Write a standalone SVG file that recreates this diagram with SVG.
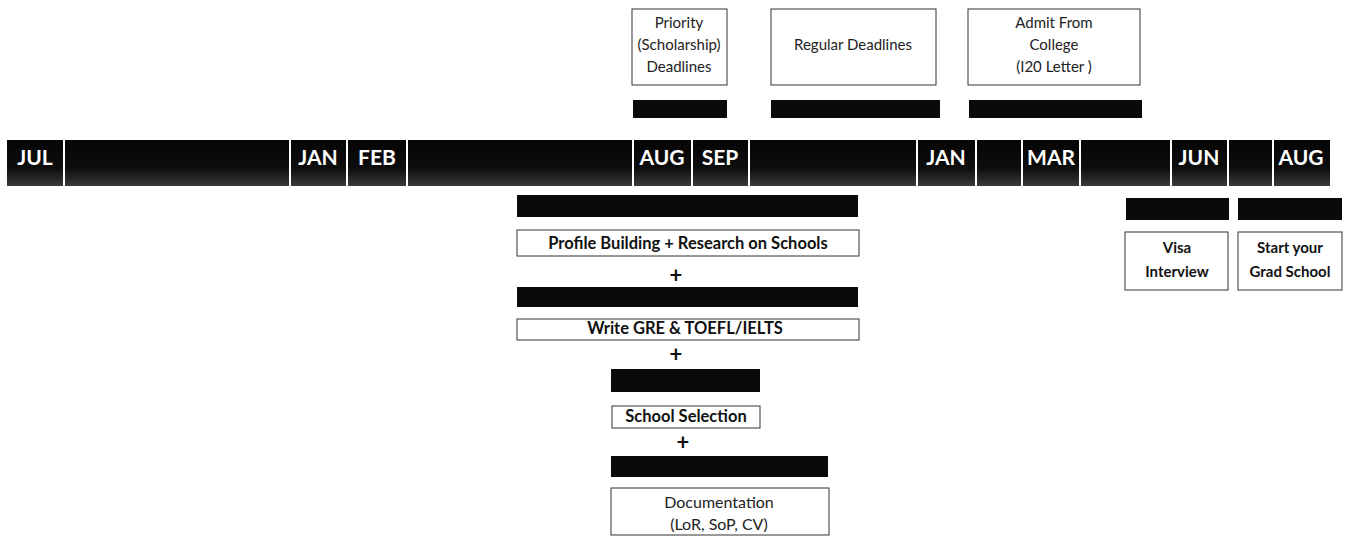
<svg xmlns="http://www.w3.org/2000/svg" width="1348" height="538" viewBox="0 0 1348 538">
<style>
.bar{fill:#0a0a0a}
.seg{fill:url(#tl)}
.box{fill:#fff;stroke:#333;stroke-width:1}
.mon{font-family:Lato,"Noto Sans",sans-serif;font-weight:bold;font-size:21px;fill:#fff;text-anchor:middle}
.t{font-family:Lato,"Noto Sans",sans-serif;font-size:15px;fill:#222;text-anchor:middle}
.tb{font-family:Lato,"Noto Sans",sans-serif;font-size:16.5px;font-weight:bold;fill:#111;text-anchor:middle}
.ts{font-family:Lato,"Noto Sans",sans-serif;font-size:15px;font-weight:bold;fill:#111;text-anchor:middle}
.plus{font-family:Lato,"Noto Sans",sans-serif;font-size:22px;font-weight:bold;fill:#111;text-anchor:middle}
</style>
<defs>
<linearGradient id="tl" x1="0" y1="0" x2="0" y2="1">
<stop offset="0" stop-color="#050505"/>
<stop offset="0.6" stop-color="#0d0d0d"/>
<stop offset="1" stop-color="#3a3a3a"/>
</linearGradient>
</defs>
<g id="timeline">
<rect class="seg" x="7" y="140" width="56" height="46"/>
<rect class="seg" x="65" y="140" width="224" height="46"/>
<rect class="seg" x="291" y="140" width="55" height="46"/>
<rect class="seg" x="348" y="140" width="58" height="46"/>
<rect class="seg" x="408" y="140" width="224" height="46"/>
<rect class="seg" x="634" y="140" width="57" height="46"/>
<rect class="seg" x="693" y="140" width="55" height="46"/>
<rect class="seg" x="750" y="140" width="166" height="46"/>
<rect class="seg" x="918" y="140" width="57" height="46"/>
<rect class="seg" x="977" y="140" width="44" height="46"/>
<rect class="seg" x="1023" y="140" width="56" height="46"/>
<rect class="seg" x="1081" y="140" width="89" height="46"/>
<rect class="seg" x="1172" y="140" width="55" height="46"/>
<rect class="seg" x="1229" y="140" width="43" height="46"/>
<rect class="seg" x="1274" y="140" width="56" height="46"/>
<text class="mon" x="35" y="165">JUL</text>
<text class="mon" x="318" y="165">JAN</text>
<text class="mon" x="377" y="165">FEB</text>
<text class="mon" x="662" y="165">AUG</text>
<text class="mon" x="720" y="165">SEP</text>
<text class="mon" x="946" y="165">JAN</text>
<text class="mon" x="1051" y="165">MAR</text>
<text class="mon" x="1199" y="165">JUN</text>
<text class="mon" x="1301" y="165">AUG</text>
</g>
<g id="priority">
<rect class="box" x="632" y="9" width="95" height="76"/>
<text class="t" x="679" y="28">Priority</text>
<text class="t" x="679" y="50">(Scholarship)</text>
<text class="t" x="679" y="72">Deadlines</text>
<rect class="bar" x="633" y="100" width="94" height="18"/>
</g>
<g id="regular">
<rect class="box" x="771" y="9" width="165" height="76"/>
<text class="t" x="853" y="50">Regular Deadlines</text>
<rect class="bar" x="771" y="100" width="169" height="18"/>
</g>
<g id="admit">
<rect class="box" x="968" y="9" width="172" height="76"/>
<text class="t" x="1054" y="28">Admit From</text>
<text class="t" x="1054" y="50">College</text>
<text class="t" x="1054" y="72">(I20 Letter )</text>
<rect class="bar" x="969" y="100" width="173" height="18"/>
</g>
<g id="profile">
<rect class="bar" x="517" y="195" width="341" height="22"/>
<rect class="box" x="517" y="230" width="342" height="26"/>
<text class="tb" x="688" y="249">Profile Building + Research on Schools</text>
</g>
<g id="gre">
<rect class="bar" x="517" y="287" width="341" height="20"/>
<rect class="box" x="517" y="319" width="342" height="21"/>
<text class="tb" x="685" y="334">Write GRE &amp; TOEFL/IELTS</text>
</g>
<g id="selection">
<rect class="bar" x="611" y="369" width="149" height="23"/>
<rect class="box" x="612" y="406" width="148" height="22"/>
<text class="tb" x="686" y="422">School Selection</text>
</g>
<g id="documentation">
<rect class="bar" x="611" y="456" width="217" height="21"/>
<rect class="box" x="611" y="488" width="218" height="47"/>
<text class="t" x="719" y="508" style="font-size:16px">Documentation</text>
<text class="t" x="719" y="530" style="font-size:16px">(LoR, SoP, CV)</text>
</g>
<g id="visa">
<rect class="bar" x="1126" y="198" width="103" height="22"/>
<rect class="box" x="1125" y="232" width="103" height="58"/>
<text class="ts" x="1177" y="253">Visa</text>
<text class="ts" x="1177" y="277">Interview</text>
</g>
<g id="grad">
<rect class="bar" x="1238" y="198" width="104" height="22"/>
<rect class="box" x="1238" y="232" width="104" height="58"/>
<text class="ts" x="1290" y="253">Start your</text>
<text class="ts" x="1290" y="277">Grad School</text>
</g>
<g id="connectors">
<text class="plus" x="676" y="283">+</text>
<text class="plus" x="676" y="362">+</text>
<text class="plus" x="683" y="450">+</text>
</g>
</svg>
